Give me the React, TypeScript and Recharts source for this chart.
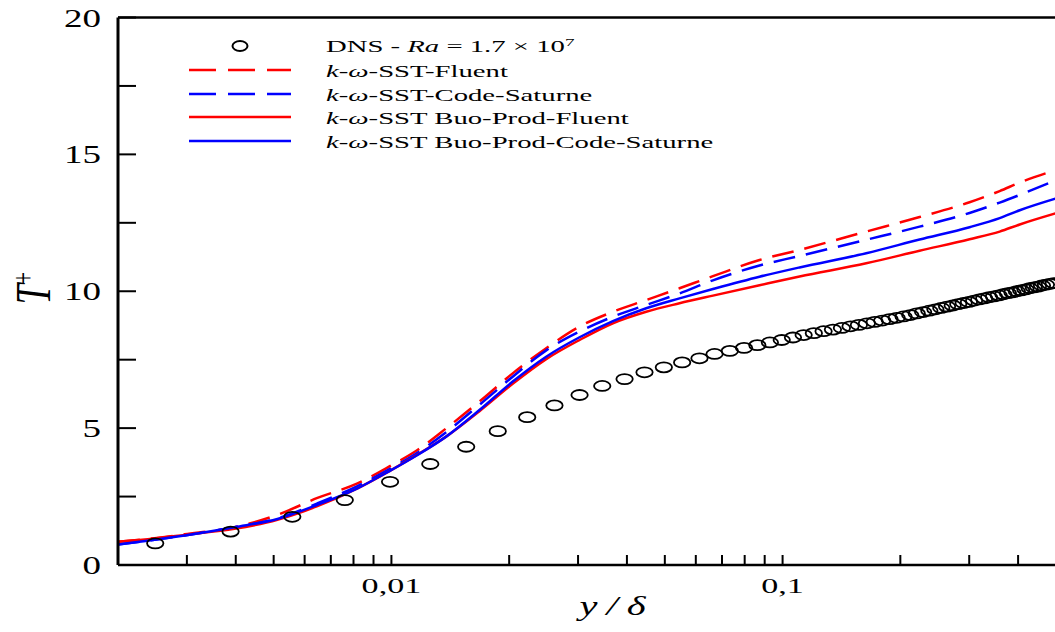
import React from 'react';
import { ComposedChart, Line, Scatter, XAxis, YAxis, ReferenceLine, Legend } from 'recharts';

const FONT = '"Liberation Serif", "Times New Roman", serif';

// x-axis tick values (y/δ, log scale) and their labels
const X_TICKS = [0.003, 0.004, 0.005, 0.006, 0.007, 0.008, 0.009, 0.01, 0.02, 0.03, 0.04, 0.05, 0.06, 0.07, 0.08, 0.09, 0.1, 0.2, 0.3, 0.4];
const X_TICK_LABELS = ['', '', '', '', '', '', '', '0,01', '', '', '', '', '', '', '', '', '0,1', '', '', ''];
const Y_TICKS = [0, 2.5, 5, 7.5, 10, 12.5, 15, 17.5, 20];
const Y_TICK_LABELS = ['0', '', '5', '', '10', '', '15', '', '20'];

// DNS - Ra = 1.7e7
const DNS_Y = [0.00249, 0.00388, 0.00558, 0.0076, 0.00992, 0.01257, 0.01553, 0.0187, 0.02224, 0.02611, 0.03027, 0.03459, 0.03945, 0.04436, 0.04971, 0.05536, 0.06131,
  0.067, 0.0733, 0.0797, 0.0862, 0.0928, 0.0995, 0.1063, 0.1132, 0.1202, 0.1273, 0.1345, 0.1418, 0.1492, 0.1567, 0.1643, 0.172, 0.1798, 0.1877, 0.1957, 0.2038,
  0.212, 0.2203, 0.2287, 0.2372, 0.2458, 0.2545, 0.2633, 0.2722, 0.2812, 0.2903, 0.2995, 0.3088, 0.3182, 0.3277, 0.3373, 0.347, 0.3568, 0.3667, 0.3767, 0.3868,
  0.397, 0.4073, 0.4177, 0.4282, 0.4388, 0.4495, 0.4603, 0.4712, 0.4822, 0.4933];
const DNS_T = [0.79, 1.22, 1.76, 2.37, 3.04, 3.69, 4.32, 4.89, 5.4, 5.83, 6.21, 6.54, 6.79, 7.04, 7.22, 7.4, 7.55,
  7.71, 7.82, 7.93, 8.03, 8.13, 8.22, 8.31, 8.4, 8.47, 8.54, 8.6, 8.66, 8.72, 8.77, 8.83, 8.88, 8.93, 8.98, 9.03, 9.08,
  9.13, 9.19, 9.24, 9.29, 9.34, 9.39, 9.44, 9.48, 9.53, 9.57, 9.61, 9.66, 9.7, 9.74, 9.78, 9.81, 9.85, 9.89, 9.93, 9.96,
  10.0, 10.03, 10.07, 10.11, 10.14, 10.17, 10.21, 10.24, 10.27, 10.3];

// model curves sampled at these y/δ positions
const CURVE_Y = [0.002, 0.00248, 0.00296, 0.00397, 0.00511, 0.00647, 0.00819, 0.00994, 0.01166, 0.0138, 0.01679, 0.02042, 0.02487, 0.03027, 0.03683, 0.04481, 0.05451, 0.06637, 0.0873, 0.1105, 0.1636, 0.224, 0.3006, 0.3589, 0.4039, 0.5];
const SST_FLUENT = [0.85, 0.98, 1.12, 1.38, 1.83, 2.45, 2.98, 3.62, 4.2, 4.99, 5.97, 7.0, 7.92, 8.71, 9.25, 9.68, 10.11, 10.55, 11.14, 11.51, 12.18, 12.71, 13.25, 13.66, 13.97, 14.43];
const SST_SATURNE = [0.75, 0.92, 1.08, 1.38, 1.7, 2.25, 2.88, 3.52, 4.1, 4.85, 5.85, 6.88, 7.84, 8.53, 9.07, 9.5, 9.92, 10.4, 10.94, 11.29, 11.88, 12.36, 12.86, 13.24, 13.52, 14.06];
const BUO_FLUENT = [0.85, 0.97, 1.1, 1.32, 1.65, 2.15, 2.8, 3.45, 4.03, 4.69, 5.62, 6.62, 7.52, 8.22, 8.83, 9.25, 9.56, 9.84, 10.22, 10.54, 11.02, 11.48, 11.9, 12.18, 12.44, 12.85];
const BUO_SATURNE = [0.75, 0.92, 1.08, 1.38, 1.68, 2.2, 2.8, 3.45, 4.02, 4.69, 5.66, 6.7, 7.61, 8.32, 8.91, 9.38, 9.74, 10.08, 10.53, 10.87, 11.39, 11.89, 12.34, 12.67, 12.96, 13.39];

const SERIES_NAMES = ['k-ω-SST-Fluent', 'k-ω-SST-Code-Saturne', 'k-ω-SST Buo-Prod-Fluent', 'k-ω-SST Buo-Prod-Code-Saturne'];
const SERIES_SUFFIX = ['-SST-Fluent', '-SST-Code-Saturne', '-SST Buo-Prod-Fluent', '-SST Buo-Prod-Code-Saturne'];
const SERIES_COLORS = ['#ff0000', '#0000ff', '#ff0000', '#0000ff'];
const SERIES_DASH = ['22 11', '22 11', undefined, undefined];
const SERIES_VALUES = [SST_FLUENT, SST_SATURNE, BUO_FLUENT, BUO_SATURNE];

const dnsData = DNS_Y.map((x, i) => ({ x, t: DNS_T[i] }));
const curveData = SERIES_VALUES.map((vals) => CURVE_Y.map((x, i) => ({ x, t: vals[i] })));

const XTick = (props: any) => {
  const { x, y, payload } = props;
  const idx = X_TICKS.indexOf(payload.value);
  const label = idx >= 0 ? X_TICK_LABELS[idx] : '';
  return (
    <g>
      <line x1={x} x2={x} y1={y} y2={y - 10} stroke="#000" strokeWidth={2} />
      {label ? (
        <text transform={`translate(${x},${y + 28}) scale(1.55,1)`} textAnchor="middle" fontFamily={FONT} fontSize={22} fill="#000">{label}</text>
      ) : null}
    </g>
  );
};

const YTick = (props: any) => {
  const { x, y, payload } = props;
  const idx = Y_TICKS.indexOf(payload.value);
  const label = idx >= 0 ? Y_TICK_LABELS[idx] : '';
  return (
    <g>
      <line x1={x} x2={x + 18} y1={y} y2={y} stroke="#000" strokeWidth={2} />
      {label ? (
        <text transform={`translate(${x - 17},${y + 9}) scale(1.48,1)`} textAnchor="end" fontFamily={FONT} fontSize={25} fill="#000">{label}</text>
      ) : null}
    </g>
  );
};

const XTitle = () => (
  <text transform="translate(617,615) scale(1.5,1)" textAnchor="middle" fontFamily={FONT} fontSize={27} fontStyle="italic" letterSpacing={6} fill="#000">y/δ</text>
);

const YTitle = () => (
  <text transform="translate(50,288) scale(1.42,1) rotate(-90)" textAnchor="middle" fontFamily={FONT} fontSize={36} fill="#000">
    <tspan fontStyle="italic">T</tspan>
    <tspan dy={-11} fontSize={22}>+</tspan>
  </text>
);

const renderLegend = () => {
  const ox = 180;
  const oy = 28;
  const textX = 326 - ox;
  const rows = [70, 94, 117, 141].map((v) => v - oy);
  return (
    <svg width={600} height={130} style={{ display: 'block', overflow: 'visible' }}>
      <ellipse cx={240 - ox} cy={46 - oy} rx={7.5} ry={5} fill="none" stroke="#000" strokeWidth={2} />
      <text transform={`translate(${textX},${52 - oy}) scale(1.74,1)`} fontFamily={FONT} fontSize={16.5} fill="#000">
        DNS - <tspan fontStyle="italic">Ra</tspan> = 1.7 × 10<tspan dy={-6} fontSize={11}>7</tspan>
      </text>
      {SERIES_NAMES.map((name, i) => (
        <g key={name}>
          <line x1={189 - ox} x2={291 - ox} y1={rows[i]} y2={rows[i]} stroke={SERIES_COLORS[i]} strokeWidth={2.5} strokeDasharray={SERIES_DASH[i] ? '27 12' : undefined} />
          <text transform={`translate(${textX},${rows[i] + 6.5}) scale(1.74,1)`} fontFamily={FONT} fontSize={16.5} fill="#000">
            <tspan fontStyle="italic">k</tspan>-<tspan fontStyle="italic">ω</tspan>{SERIES_SUFFIX[i]}
          </text>
        </g>
      ))}
    </svg>
  );
};

const DnsShape = (props: any) => {
  const { cx, cy } = props;
  if (cx == null || cy == null) return null;
  return <ellipse cx={cx} cy={cy} rx={8.2} ry={5} fill="none" stroke="#000" strokeWidth={1.8} />;
};

export default function App() {
  return (
    <div style={{ position: 'absolute', left: 0, top: 0, width: 1055, height: 632, overflow: 'hidden', background: '#fff' }}>
      <ComposedChart width={1070} height={632} margin={{ top: 17.5, right: 14, bottom: 0, left: 0 }}>
        <XAxis
          dataKey="x"
          type="number"
          scale="log"
          domain={[0.002, 0.5]}
          allowDataOverflow
          ticks={X_TICKS}
          interval={0}
          height={67}
          tickSize={0}
          tickMargin={0}
          tickLine={false}
          tick={<XTick />}
          axisLine={{ stroke: '#000', strokeWidth: 2.5 }}
          label={<XTitle />}
        />
        <YAxis
          dataKey="t"
          type="number"
          domain={[0, 20]}
          allowDataOverflow
          ticks={Y_TICKS}
          interval={0}
          width={118}
          tickSize={0}
          tickMargin={0}
          tickLine={false}
          tick={<YTick />}
          axisLine={{ stroke: '#000', strokeWidth: 3 }}
          label={<YTitle />}
        />
        <ReferenceLine y={20} stroke="#000" strokeWidth={2.5} ifOverflow="visible" />
        {curveData.map((d, i) => (
          <Line
            key={SERIES_NAMES[i]}
            name={SERIES_NAMES[i]}
            data={d}
            dataKey="t"
            type="monotone"
            stroke={SERIES_COLORS[i]}
            strokeWidth={2.5}
            strokeDasharray={SERIES_DASH[i]}
            dot={false}
            activeDot={false}
            isAnimationActive={false}
          />
        ))}
        <Scatter name="DNS" data={dnsData} dataKey="t" shape={<DnsShape />} isAnimationActive={false} />
        <Legend
          content={renderLegend}
          layout="horizontal"
          verticalAlign="middle"
          align="center"
          wrapperStyle={{ left: 180, top: 28, width: 600, height: 130 }}
        />
      </ComposedChart>
    </div>
  );
}
